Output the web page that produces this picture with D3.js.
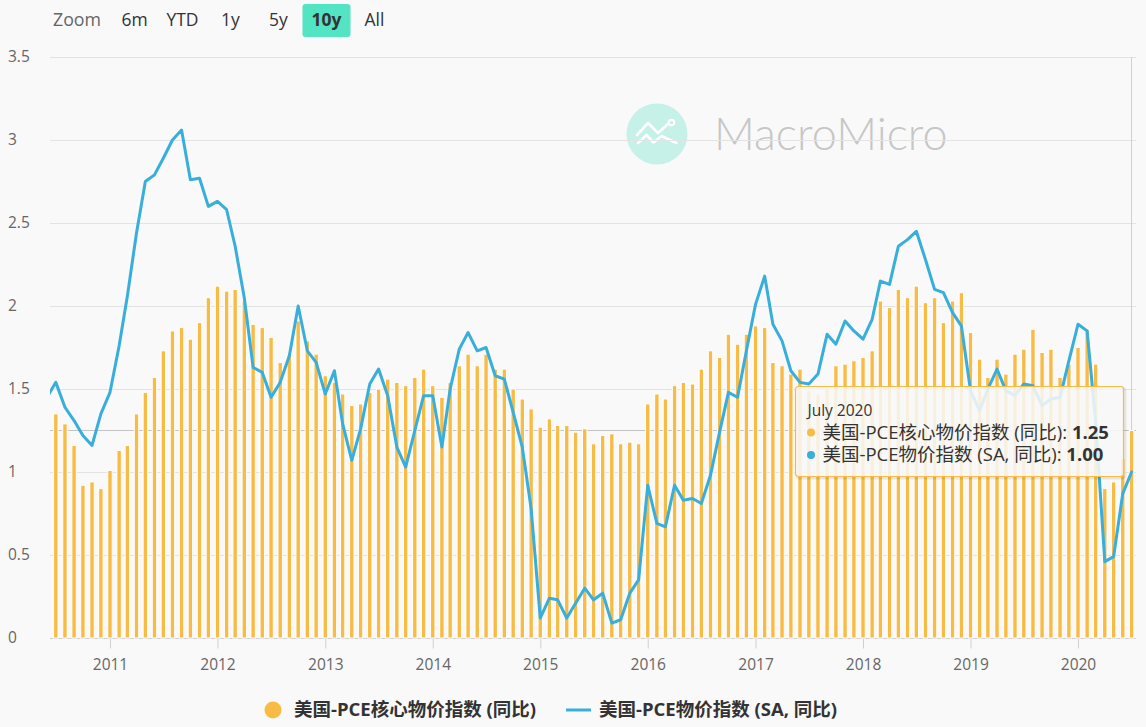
<!DOCTYPE html>
<html><head><meta charset="utf-8">
<script src="https://cdn.jsdelivr.net/npm/d3@7"></script>
<style>
html,body{margin:0;padding:0;background:#f9f9f9;}
svg{display:block;font-family:"Open Sans","Noto Sans CJK SC",sans-serif;}
</style></head><body>
<svg id="chart" width="1146" height="727"></svg>
<script>
// ---- data ----
const firstMonth = [2010, 5];   // June 2010 (month index 0-based)
const lastMonth  = [2020, 6];   // July 2020
const coreYoY = [
  1.40, 1.35, 1.29, 1.16, 0.92, 0.94, 0.90,
  1.01, 1.13, 1.16, 1.35, 1.48, 1.57, 1.73, 1.85, 1.87, 1.80, 1.90, 2.05,
  2.12, 2.09, 2.10, 2.03, 1.89, 1.87, 1.81, 1.66, 1.71, 1.91, 1.79, 1.71,
  1.58, 1.54, 1.47, 1.40, 1.41, 1.48, 1.50, 1.56, 1.54, 1.52, 1.57, 1.62,
  1.52, 1.45, 1.54, 1.64, 1.71, 1.64, 1.71, 1.62, 1.62, 1.50, 1.44, 1.38,
  1.27, 1.32, 1.28, 1.28, 1.24, 1.26, 1.17, 1.22, 1.23, 1.17, 1.18, 1.17,
  1.41, 1.47, 1.44, 1.52, 1.54, 1.53, 1.62, 1.73, 1.69, 1.83, 1.77, 1.83,
  1.88, 1.87, 1.66, 1.64, 1.59, 1.62, 1.49, 1.47, 1.50, 1.64, 1.65, 1.67,
  1.69, 1.73, 2.03, 1.99, 2.10, 2.05, 2.12, 2.02, 2.05, 1.90, 2.03, 2.08,
  1.84, 1.68, 1.57, 1.68, 1.59, 1.71, 1.74, 1.86, 1.72, 1.74, 1.57, 1.65,
  1.75, 1.86, 1.65, 0.90, 0.94, 1.08, 1.25
];
const pceYoY = [
  1.45, 1.54, 1.39, 1.31, 1.22, 1.16, 1.35,
  1.48, 1.76, 2.06, 2.44, 2.75, 2.79, 2.89, 3.00, 3.06, 2.76, 2.77, 2.60,
  2.63, 2.58, 2.36, 2.05, 1.63, 1.60, 1.45, 1.54, 1.70, 2.00, 1.73, 1.66,
  1.47, 1.61, 1.29, 1.07, 1.26, 1.53, 1.62, 1.46, 1.15, 1.03, 1.25, 1.46,
  1.46, 1.15, 1.50, 1.74, 1.84, 1.73, 1.75, 1.58, 1.56, 1.36, 1.15, 0.78,
  0.12, 0.24, 0.23, 0.12, 0.21, 0.30, 0.23, 0.27, 0.09, 0.11, 0.27, 0.35,
  0.92, 0.69, 0.67, 0.92, 0.83, 0.84, 0.81, 0.98, 1.24, 1.48, 1.45, 1.73,
  2.01, 2.18, 1.89, 1.79, 1.61, 1.54, 1.53, 1.59, 1.83, 1.77, 1.91, 1.85,
  1.80, 1.92, 2.15, 2.13, 2.36, 2.40, 2.45, 2.28, 2.10, 2.08, 1.96, 1.88,
  1.49, 1.37, 1.50, 1.62, 1.49, 1.46, 1.53, 1.52, 1.40, 1.44, 1.45, 1.67,
  1.89, 1.85, 1.30, 0.46, 0.49, 0.87, 1.00
];
const yTicks = [0, 0.5, 1, 1.5, 2, 2.5, 3, 3.5];
const xTickYears = [2011, 2012, 2013, 2014, 2015, 2016, 2017, 2018, 2019, 2020];
const rangeButtons = ["6m", "YTD", "1y", "5y", "10y", "All"];
const activeButton = "10y";
const seriesNames = ["美国-PCE核心物价指数 (同比)", "美国-PCE物价指数 (SA, 同比)"];
const tooltipTitle = "July 2020";
const tooltipValues = ["1.25", "1.00"];
const watermarkText = "MacroMicro";

// ---- setup ----
const months = d3.timeMonth.range(new Date(firstMonth[0], firstMonth[1], 1),
                                  d3.timeMonth.offset(new Date(lastMonth[0], lastMonth[1], 1), 1));
const core = months.map((d, i) => ({date: d, v: coreYoY[i]}));
const pce  = months.map((d, i) => ({date: d, v: pceYoY[i]}));

const W = 1146, H = 727;
const plot = {left: 50, right: 1136, top: 57, bottom: 638};
const colCore = "#f8bb44", colPce = "#38aedb";

const x = d3.scaleTime()
  .domain([new Date(xTickYears[0], 0, 1), new Date(xTickYears[xTickYears.length-1], 0, 1)])
  .range([110, 1078]);
const y = d3.scaleLinear().domain([0, 3.5]).range([plot.bottom, plot.top]);

const svg = d3.select("#chart");
svg.append("rect").attr("width", W).attr("height", H).attr("fill", "#f9f9f9");

svg.append("defs").append("clipPath").attr("id", "clip")
  .append("rect").attr("x", plot.left).attr("y", 0)
  .attr("width", plot.right - plot.left).attr("height", plot.bottom + 1);

// ---- watermark ----
const wm = svg.append("g");
wm.append("circle").attr("cx", 657).attr("cy", 134).attr("r", 30.5).attr("fill", "#c6f1e8");
wm.append("path")
  .attr("d", "M637,135 L648,123 L658,133 L668,124")
  .attr("fill", "none").attr("stroke", "#fff").attr("stroke-width", 2.6).attr("stroke-linecap", "round").attr("stroke-linejoin", "round");
wm.append("path")
  .attr("d", "M638,143 L646.5,135 L653.5,142.5 L661.5,136 L676.5,143")
  .attr("fill", "none").attr("stroke", "#fff").attr("stroke-width", 2.6).attr("stroke-linecap", "round").attr("stroke-linejoin", "round");
wm.append("circle").attr("cx", 671.5).attr("cy", 122.5).attr("r", 2.8)
  .attr("fill", "none").attr("stroke", "#fff").attr("stroke-width", 2);
wm.append("text").attr("x", 714).attr("y", 150).text(watermarkText)
  .attr("font-family", "Lato, 'Open Sans', sans-serif").attr("font-weight", 300)
  .attr("font-size", 45).attr("fill", "#c6c6c6");

// ---- grid ----
svg.append("g").selectAll("line").data(yTicks).join("line")
  .attr("x1", plot.left).attr("x2", plot.right)
  .attr("y1", d => Math.round(y(d)) + 0.5).attr("y2", d => Math.round(y(d)) + 0.5)
  .attr("stroke", "#e3e3e3").attr("stroke-width", 1);

// y labels
svg.append("g").selectAll("text").data(yTicks).join("text")
  .attr("x", 8).attr("y", d => y(d)).attr("dy", "0.35em")
  .attr("font-size", 15.5).attr("fill", "#666")
  .text(d => d3.format("~g")(d));

// crosshairs (tooltip hover state)
const last = core[core.length - 1];
svg.append("line")
  .attr("x1", plot.left).attr("x2", plot.right)
  .attr("y1", Math.round(y(last.v)) + 0.5).attr("y2", Math.round(y(last.v)) + 0.5)
  .attr("stroke", "#c4c4c4").attr("stroke-width", 1);
svg.append("line")
  .attr("x1", Math.round(x(last.date)) - 0.5).attr("x2", Math.round(x(last.date)) - 0.5)
  .attr("y1", plot.top).attr("y2", plot.bottom)
  .attr("stroke", "#d0d0d0").attr("stroke-width", 1);

// ---- x axis ----
const xAxis = d3.axisBottom(x)
  .tickValues(xTickYears.map(yr => new Date(yr, 0, 1)))
  .tickFormat(d3.timeFormat("%Y"))
  .tickSize(10).tickSizeOuter(0);
const gx = svg.append("g").attr("transform", `translate(0,${plot.bottom + 0.5})`).call(xAxis);
gx.select(".domain").attr("d", `M${plot.left},0H${plot.right}`).attr("stroke", "#d0d0d0");
gx.selectAll(".tick line").attr("stroke", "#d0d0d0");
gx.selectAll(".tick text").attr("y", 20).attr("dy", "0.71em").attr("font-size", 15.5)
  .attr("fill", "#666").attr("font-family", "'Open Sans', sans-serif");

// ---- series ----
const series = svg.append("g").attr("clip-path", "url(#clip)");
const bw = 4.4;
series.append("g").selectAll("rect").data(core).join("rect")
  .attr("x", d => x(d.date) - bw / 2)
  .attr("y", d => y(d.v))
  .attr("width", bw)
  .attr("height", d => y(0) - y(d.v))
  .attr("fill", colCore).attr("stroke", "#fff").attr("stroke-width", 1);

series.append("path").datum(pce)
  .attr("d", d3.line().x(d => x(d.date)).y(d => y(d.v)))
  .attr("fill", "none").attr("stroke", colPce).attr("stroke-width", 3)
  .attr("stroke-linejoin", "round").attr("stroke-linecap", "round");

// ---- range selector ----
const rs = svg.append("g");
rs.append("text").attr("x", 53).attr("y", 20).attr("dy", "0.35em")
  .attr("font-size", 17.8).attr("fill", "#666").text("Zoom");
rangeButtons.forEach((b, i) => {
  const cx = 134.5 + 48 * i;
  if (b === activeButton) {
    rs.append("rect").attr("x", cx - 24).attr("y", 4).attr("width", 48).attr("height", 33)
      .attr("rx", 3).attr("fill", "#53e4c4");
  }
  rs.append("text").attr("x", cx).attr("y", 20).attr("dy", "0.35em")
    .attr("text-anchor", "middle").attr("font-size", 17.5)
    .attr("font-weight", b === activeButton ? "bold" : "normal")
    .attr("fill", "#333").text(b);
});

// ---- legend ----
const lg = svg.append("g").attr("font-size", 18.5).attr("font-weight", "bold").attr("fill", "#333");
lg.append("circle").attr("cx", 273).attr("cy", 710).attr("r", 8.5).attr("fill", colCore);
lg.append("text").attr("x", 294).attr("y", 710).attr("dy", "0.35em").text(seriesNames[0]);
lg.append("line").attr("x1", 566).attr("x2", 591).attr("y1", 710).attr("y2", 710)
  .attr("stroke", colPce).attr("stroke-width", 3);
lg.append("text").attr("x", 599).attr("y", 710).attr("dy", "0.35em").text(seriesNames[1]);

// ---- tooltip ----
const tt = svg.append("g").attr("transform", "translate(795.5,386.5)");
tt.append("rect").attr("x", 1.5).attr("y", 1.5).attr("width", 328).attr("height", 90).attr("rx", 3)
  .attr("fill", "none").attr("stroke", "rgba(0,0,0,0.08)").attr("stroke-width", 3);
tt.append("rect").attr("width", 328).attr("height", 90).attr("rx", 3)
  .attr("fill", "rgba(248,248,248,0.86)").attr("stroke", colCore).attr("stroke-width", 1.2);
tt.append("text").attr("x", 12).attr("y", 24).attr("dy", "0.35em")
  .attr("font-size", 15.5).attr("fill", "#333").text(tooltipTitle);
[colCore, colPce].forEach((c, i) => {
  const cy = 46 + 22.5 * i;
  tt.append("circle").attr("cx", 15.5).attr("cy", cy).attr("r", 4).attr("fill", c);
  const t = tt.append("text").attr("x", 27).attr("y", cy).attr("dy", "0.35em")
    .attr("font-size", 18.5).attr("fill", "#333");
  t.append("tspan").text(seriesNames[i] + ": ");
  t.append("tspan").attr("font-weight", "bold").text(tooltipValues[i]);
});
</script>
</body></html>
